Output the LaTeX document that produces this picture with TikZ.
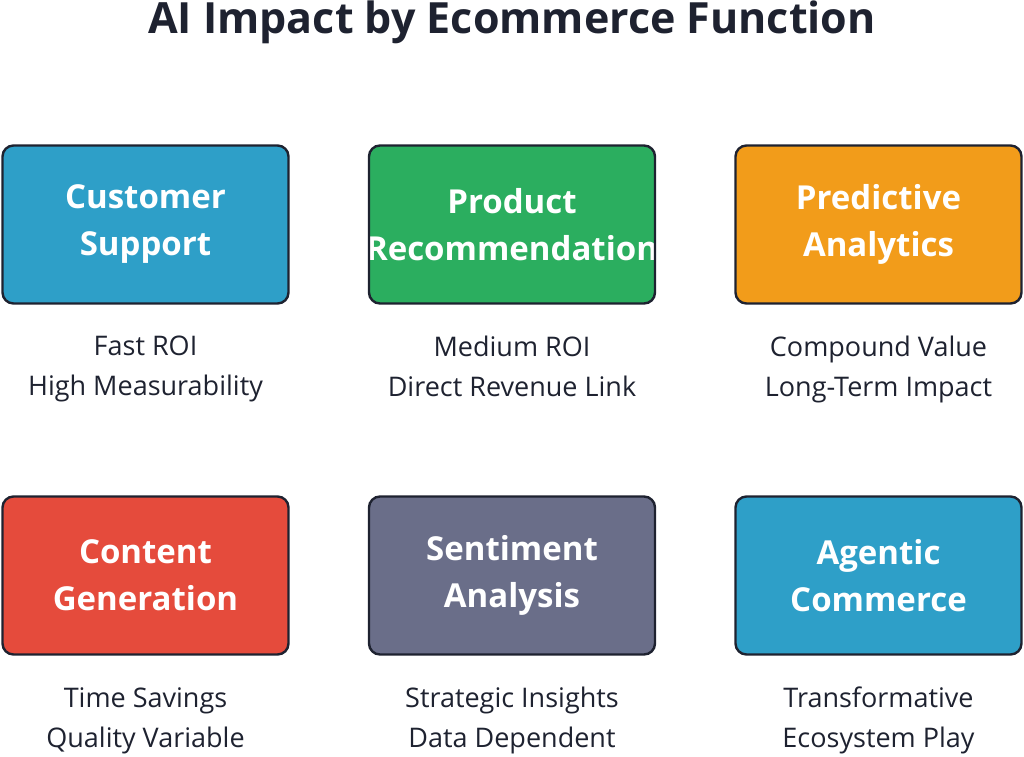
\documentclass[tikz,border=0pt]{standalone}
\usepackage{fontspec}
\setmainfont{Open Sans}
\usetikzlibrary{positioning}
\definecolor{inkdark}{HTML}{1E2230}
\definecolor{cblue}{HTML}{2E9FC8}
\definecolor{cgreen}{HTML}{2BAE5F}
\definecolor{corange}{HTML}{F29C1A}
\definecolor{cred}{HTML}{E54B3C}
\definecolor{cslate}{HTML}{6A6E89}
\tikzset{
	fnbox/.style={draw=inkdark, line width=2.4pt, rounded corners=11pt,
		minimum width=286pt, minimum height=158pt, inner sep=0pt},
	fnlabel/.style={text=inkdark, align=center, font=\fontsize{27}{40}\selectfont},
	fntext/.style={text=white, align=center, font=\fontsize{33}{47}\selectfont\bfseries}}
\newcommand{\fnbox}[4]{% name, position, colour, text
	\node[fnbox, fill=#3, path picture={\node[fntext] at (path picture bounding box.center) {#4};}] (#1) at #2 {};}
\begin{document}
\begin{tikzpicture}[x=1pt,y=-1pt]
	\useasboundingbox (0,0) rectangle (1024,756);

	% title
	\node[text=inkdark, font=\fontsize{43}{50}\selectfont\bfseries] (title) at (512,22) {AI Impact by Ecommerce Function};

	% function boxes
	\fnbox{support}{(145.5,224.5)}{cblue}{Customer\\Support}
	\fnbox{recommend}{(512,224.5)}{cgreen}{Product\\Recommendation}
	\fnbox{predict}{(878.5,224.5)}{corange}{Predictive\\Analytics}
	\fnbox{content}{(145.5,575.5)}{cred}{Content\\Generation}
	\fnbox{sentiment}{(512,575.5)}{cslate}{Sentiment\\Analysis}
	\fnbox{agentic}{(878.5,575.5)}{cblue}{Agentic\\Commerce}

	% impact labels
	\node[fnlabel, below=28pt of support] {Fast ROI\\High Measurability};
	\node[fnlabel, below=28pt of recommend] {Medium ROI\\Direct Revenue Link};
	\node[fnlabel, below=28pt of predict] {Compound Value\\Long-Term Impact};
	\node[fnlabel, below=28pt of content] {Time Savings\\Quality Variable};
	\node[fnlabel, below=28pt of sentiment] {Strategic Insights\\Data Dependent};
	\node[fnlabel, below=28pt of agentic] {Transformative\\Ecosystem Play};
\end{tikzpicture}
\end{document}
